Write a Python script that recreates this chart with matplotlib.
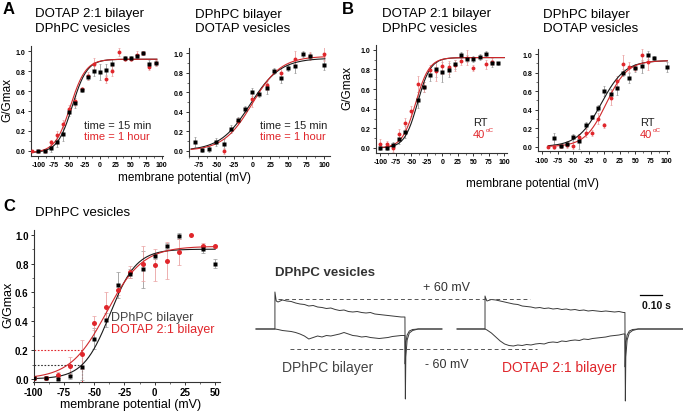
import numpy as np
import matplotlib
matplotlib.use("Agg")
import matplotlib.pyplot as plt
from matplotlib.ticker import MultipleLocator

plt.rcParams['font.family'] = ['Liberation Sans', 'DejaVu Sans']

W, H = 683, 414
RED = '#e0262b'
RED_LINE = '#d0282b'
BLK = '#1a1a1a'
RED_ERR = '#eaa2a2'
BLK_ERR = '#9a9a9a'

# ---------------- Panel A, left: DOTAP 2:1 bilayer / DPhPC vesicles ----------------
aL_black_v = [-100, -90, -80, -70, -60, -50, -40, -30, -20, -10, 0, 10, 20, 40, 50, 60, 70, 80, 90]
aL_black_g = [0.0, 0.0, 0.03, 0.09, 0.17, 0.39, 0.48, 0.61, 0.74, 0.80, 0.79, 0.81, 0.87, 0.93, 0.93, 0.95, 0.98, 0.87, 0.88]
aL_black_e = [0.01, 0.01, 0.04, 0.05, 0.07, 0.04, 0.05, 0.02, 0.03, 0.05, 0.08, 0.06, 0.05, 0.02, 0.02, 0.02, 0.02, 0.04, 0.03]
aL_red_v = [-110, -100, -90, -80, -70, -60, -50, -40, -30, -20, -10, 10, 20, 30, 40, 50, 60, 70, 80, 90]
aL_red_g = [0.0, 0.0, 0.0, 0.09, 0.16, 0.27, 0.42, 0.50, 0.62, 0.75, 0.87, 0.72, 0.80, 0.99, 0.92, 0.92, 0.96, 0.98, 0.84, 0.88]
aL_red_e = [0.01, 0.01, 0.01, 0.02, 0.04, 0.04, 0.04, 0.05, 0.02, 0.04, 0.06, 0.04, 0.05, 0.04, 0.02, 0.02, 0.04, 0.02, 0.03, 0.03]
# Boltzmann fit parameters: (Gmin, Gmax, V1/2, slope)
aL_black_fit = (-0.02, 0.92, -45.0, 12.0)
aL_red_fit = (-0.02, 0.92, -48.0, 12.5)

# ---------------- Panel A, right: DPhPC bilayer / DOTAP vesicles ----------------
aR_black_v = [-80, -70, -60, -50, -40, -30, -20, -10, 0, 10, 20, 30, 40, 50, 60, 70, 80, 100]
aR_black_g = [0.09, 0.01, 0.02, 0.09, 0.07, 0.22, 0.32, 0.43, 0.60, 0.58, 0.64, 0.82, 0.75, 0.85, 0.87, 0.99, 0.97, 0.88]
aR_black_e = [0.05, 0.02, 0.03, 0.04, 0.05, 0.04, 0.03, 0.03, 0.04, 0.03, 0.06, 0.03, 0.05, 0.03, 0.07, 0.03, 0.03, 0.05]
aR_red_v = [-40, -20, 0, 20, 40, 60, 80, 100]
aR_red_g = [0.0, 0.31, 0.53, 0.67, 0.80, 0.94, 0.97, 0.99]
aR_red_e = [0.03, 0.03, 0.08, 0.05, 0.05, 0.08, 0.04, 0.07]
aR_black_fit = (0.0, 0.95, -3.0, 21.0)
aR_red_fit = (0.0, 0.97, 0.0, 20.0)

# ---------------- Panel B, left ----------------
bL_black_v = [-100, -90, -80, -70, -60, -40, -30, -20, -10, 0, 10, 20, 30, 40, 50, 60, 70, 80, 90]
bL_black_g = [0.0, 0.0, 0.03, 0.09, 0.16, 0.49, 0.62, 0.74, 0.80, 0.77, 0.79, 0.85, 0.95, 0.91, 0.91, 0.93, 0.96, 0.86, 0.86]
bL_black_e = [0.02, 0.02, 0.03, 0.05, 0.06, 0.08, 0.05, 0.06, 0.08, 0.10, 0.07, 0.05, 0.03, 0.04, 0.03, 0.03, 0.03, 0.04, 0.02]
bL_red_v = [-100, -90, -80, -70, -60, -50, -40, -30, -20, -10, 0, 10, 20, 30, 40, 50, 70, 80]
bL_red_g = [0.04, 0.04, 0.0, 0.14, 0.25, 0.38, 0.65, 0.62, 0.79, 0.78, 0.83, 0.82, 0.84, 0.89, 0.92, 0.81, 0.85, 0.88]
bL_red_e = [0.05, 0.03, 0.04, 0.05, 0.06, 0.05, 0.08, 0.05, 0.05, 0.10, 0.08, 0.07, 0.06, 0.05, 0.08, 0.03, 0.05, 0.04]
bL_black_fit = (0.0, 0.92, -40.0, 10.5)
bL_red_fit = (0.0, 0.92, -43.0, 11.0)

# ---------------- Panel B, right ----------------
bR_black_v = [-80, -70, -60, -50, -40, -30, -20, -10, 0, 10, 20, 30, 40, 50, 60, 70, 80, 100]
bR_black_g = [0.09, 0.01, 0.03, 0.10, 0.06, 0.23, 0.32, 0.42, 0.60, 0.57, 0.63, 0.80, 0.74, 0.85, 0.87, 0.99, 0.96, 0.86]
bR_black_e = [0.06, 0.02, 0.03, 0.04, 0.08, 0.04, 0.02, 0.03, 0.05, 0.05, 0.07, 0.04, 0.05, 0.04, 0.07, 0.04, 0.02, 0.05]
bR_red_v = [-90, -80, -70, -60, -50, -40, -30, -20, -10, 0, 10, 20, 30, 40, 50, 60, 70]
bR_red_g = [0.0, 0.0, 0.01, 0.02, 0.01, 0.10, 0.15, 0.15, 0.30, 0.23, 0.53, 0.71, 0.89, 0.86, 0.85, 0.99, 0.91]
bR_red_e = [0.01, 0.02, 0.02, 0.03, 0.04, 0.04, 0.05, 0.03, 0.06, 0.03, 0.08, 0.05, 0.10, 0.05, 0.03, 0.06, 0.08]
bR_black_fit = (0.0, 0.93, -5.0, 19.0)
bR_red_fit = (0.0, 0.93, 3.0, 17.0)

# ---------------- Panel C ----------------
c_black_v = [-100, -90, -80, -70, -60, -50, -40, -30, -20, -10, 0, 10, 20, 40, 50]
c_black_g = [0.005, 0.005, 0.0, 0.02, 0.08, 0.28, 0.41, 0.65, 0.73, 0.76, 0.85, 0.92, 0.99, 0.90, 0.80]
c_black_e = [0.005, 0.005, 0.005, 0.02, 0.09, 0.07, 0.05, 0.09, 0.03, 0.13, 0.02, 0.02, 0.02, 0.03, 0.03]
c_red_v = [-100, -90, -80, -70, -60, -50, -40, -30, -20, -10, 0, 10, 20, 30, 40, 50]
c_red_g = [0.01, 0.01, 0.03, 0.09, 0.17, 0.39, 0.50, 0.62, 0.74, 0.80, 0.79, 0.82, 0.88, 1.0, 0.92, 0.92]
c_red_e = [0.005, 0.01, 0.02, 0.06, 0.10, 0.05, 0.10, 0.04, 0.04, 0.12, 0.11, 0.13, 0.09, 0.0, 0.02, 0.01]
c_black_fit = (0.0, 0.90, -37.0, 11.0)
c_red_fit = (0.0, 0.92, -40.0, 15.0)

# ---------------- Current traces (time in s, current in arbitrary units) ----------------
tr1_pre_t = [0.0, 0.086]
tr1_on_t, tr1_off_t, tr1_end_t = 0.086, 0.677, 0.845
tr1_on_spike = 37
tr1_pulse_t = [0.10, 0.12, 0.14, 0.16, 0.18, 0.20, 0.22, 0.24, 0.26, 0.28, 0.30, 0.32, 0.34, 0.36,
               0.38, 0.40, 0.42, 0.44, 0.46, 0.48, 0.50, 0.52, 0.54, 0.56, 0.58, 0.60, 0.62, 0.64, 0.66]
tr1_up = [27, 29, 28, 27.5, 26, 25, 24.5, 23, 23.5, 22, 21.5, 20.5, 21, 19.5, 18.5, 19, 17.5, 17,
          17.5, 16.5, 16, 16.5, 15, 14.5, 14, 13.5, 13, 12.5, 12]
tr1_down = [-0.5, -1.5, -2, -2.5, -3.5, -5, -7, -10, -8.5, -7, -8, -6.5, -7, -6, -5, -3.5, -5, -6.5,
            -7, -8, -7.5, -8.5, -9, -9.5, -9, -8.5, -7.5, -7, -6.5]
tr1_off_spike_up, tr1_off_spike_down = -35, -70

tr2_pre_t = [0.914, 1.041]
tr2_on_t, tr2_off_t, tr2_end_t = 1.041, 1.677, 1.941
tr2_on_spike = 33
tr2_pulse_t = [1.05, 1.07, 1.09, 1.11, 1.13, 1.15, 1.17, 1.19, 1.21, 1.23, 1.25, 1.27, 1.29, 1.31, 1.33, 1.35,
               1.37, 1.39, 1.41, 1.43, 1.45, 1.47, 1.49, 1.51, 1.53, 1.55, 1.57, 1.59, 1.61, 1.63, 1.65, 1.67]
tr2_up = [28, 29.5, 29, 28, 27, 26, 25, 24.5, 23, 22.5, 22, 21, 21.5, 20.5, 21, 20, 20.5, 19.5, 20, 19,
          19.5, 18.5, 19, 18, 18.5, 18, 17.5, 18, 17.5, 17, 17.5, 16.5]
tr2_down = [-1, -4, -8, -12, -15, -16.5, -17, -16, -16.5, -15.5, -16, -15, -14.5, -15, -13.5, -13, -13.5,
            -12, -12.5, -11.5, -11, -11.5, -10, -10.5, -9.5, -9, -8.5, -8, -7, -6.5, -6, -5]
tr2_off_spike_up, tr2_off_spike_down = -38, -72

recovery_dt = [0.004, 0.01, 0.02, 0.035, 0.06]
recovery_up = [-14, -6, -2, -0.5, 0]
recovery_down = [-28, -11, -4, -1.5, 0]

fig = plt.figure(figsize=(W / 100, H / 100), dpi=100)


def ax_px(l, t, r, b):
    return fig.add_axes([l / W, 1 - b / H, (r - l) / W, (b - t) / H])


def txt(x, y, s, **kw):
    kw.setdefault('va', 'center')
    kw.setdefault('ha', 'left')
    return fig.text(x / W, 1 - y / H, s, **kw)


def boltz(v, p):
    gmin, gmax, vh, k = p
    return gmin + (gmax - gmin) / (1 + np.exp((vh - v) / k))


def style(ax, xlim, ylim, xmaj, tick_fs, minor_x, pad=1.5):
    ax.set_xlim(*xlim)
    ax.set_ylim(*ylim)
    for s in ['top', 'right']:
        ax.spines[s].set_visible(False)
    for s in ['left', 'bottom']:
        ax.spines[s].set_linewidth(0.8)
        ax.spines[s].set_color('#333333')
    ax.xaxis.set_major_locator(MultipleLocator(xmaj))
    ax.xaxis.set_minor_locator(MultipleLocator(minor_x))
    ax.yaxis.set_major_locator(MultipleLocator(0.2))
    ax.yaxis.set_minor_locator(MultipleLocator(0.1))
    ax.tick_params(which='major', length=2.5, width=0.7, labelsize=tick_fs, pad=pad, color='#333333')
    ax.tick_params(which='minor', length=1.5, width=0.5, color='#333333')
    ax.yaxis.set_major_formatter(matplotlib.ticker.FormatStrFormatter('%.1f'))
    ax.xaxis.set_major_formatter(matplotlib.ticker.FuncFormatter(lambda v, p: '%d' % v))
    for lab in ax.get_xticklabels() + ax.get_yticklabels():
        lab.set_fontweight('bold')
    ax.patch.set_alpha(0)


def gv_panel(ax, bv, bg, be, rv, rg, re_, bfit, rfit, vrange, ms_b, ms_r, cap=1.0):
    ax.errorbar(bv, bg, yerr=be, fmt='none', ecolor=BLK_ERR, elinewidth=0.6, capsize=cap, capthick=0.5, zorder=1)
    ax.errorbar(rv, rg, yerr=re_, fmt='none', ecolor=RED_ERR, elinewidth=0.6, capsize=cap, capthick=0.5, zorder=1)
    v = np.linspace(vrange[0], vrange[1], 300)
    ax.plot(v, boltz(v, bfit), color=BLK, lw=0.8, zorder=2)
    ax.plot(v, boltz(v, rfit), color=RED_LINE, lw=0.8, zorder=2)
    ax.plot(rv, rg, 'o', color=RED, ms=ms_r, mec='none', zorder=3)
    ax.plot(bv, bg, 's', color='black', ms=ms_b, mec='none', zorder=4)


# Panel A left
ax = ax_px(31, 47.3, 163, 156.7)
gv_panel(ax, aL_black_v, aL_black_g, aL_black_e, aL_red_v, aL_red_g, aL_red_e,
         aL_black_fit, aL_red_fit, (-112, 92), 2.4, 2.8)
style(ax, (-112, 102), (-0.05, 1.05), 25, 5, 12.5)

# Panel A right
ax = ax_px(189, 49.4, 330, 156.6)
gv_panel(ax, aR_black_v, aR_black_g, aR_black_e, aR_red_v, aR_red_g, aR_red_e,
         aR_black_fit, aR_red_fit, (-85, 101), 2.4, 2.8)
style(ax, (-88, 108), (-0.05, 1.05), 25, 5, 12.5)

# Panel B left
ax = ax_px(375.7, 45.8, 507, 153.9)
gv_panel(ax, bL_black_v, bL_black_g, bL_black_e, bL_red_v, bL_red_g, bL_red_e,
         bL_black_fit, bL_red_fit, (-100, 100), 2.4, 2.8)
style(ax, (-107.6, 104.4), (-0.05, 1.05), 25, 5, 12.5)

# Panel B right
ax = ax_px(537.7, 50.4, 669, 152.3)
gv_panel(ax, bR_black_v, bR_black_g, bR_black_e, bR_red_v, bR_red_g, bR_red_e,
         bR_black_fit, bR_red_fit, (-90, 101), 2.4, 2.8)
style(ax, (-106.9, 103.8), (-0.05, 1.05), 25, 5, 12.5)

# Panel C
ax = ax_px(33.5, 231.4, 220, 383.3)
gv_panel(ax, c_black_v, c_black_g, c_black_e, c_red_v, c_red_g, c_red_e,
         c_black_fit, c_red_fit, (-100, 50), 3.0, 3.6, cap=1.5)
ax.plot([-100, -60], [0.2, 0.2], ls=(0, (1.5, 1.5)), color=RED, lw=0.8, zorder=0)
ax.plot([-60, -60], [-0.02, 0.2], ls=(0, (1.5, 1.5)), color=RED, lw=0.8, zorder=0)
ax.plot([-100, -60], [0.1, 0.1], ls=(0, (1.5, 1.5)), color='#333333', lw=0.8, zorder=0)
style(ax, (-100.2, 54), (-0.023, 1.03), 25, 7, 12.5, pad=1.0)

# Current traces
tax = ax_px(250, 260, 683, 414)
tax.set_xlim(-0.0273, 1.941)
tax.set_ylim(-84, 70)
tax.axis('off')


def build(pre_t, on_t, off_t, end_t, on_spike, pulse_t, up, down, off_up, off_down):
    ut = list(pre_t) + [on_t, on_t + 0.006] + list(pulse_t) + [off_t, off_t + 0.001]
    uy = [0, 0] + [on_spike, up[0] + 1] + list(up) + [up[-1], off_up]
    dt = list(pre_t) + list(pulse_t) + [off_t, off_t + 0.002]
    dy = [0, 0] + list(down) + [down[-1], off_down]
    for d, a, b in zip(recovery_dt, recovery_up, recovery_down):
        ut.append(off_t + d); uy.append(a)
        dt.append(off_t + d); dy.append(b)
    ut.append(end_t); uy.append(0)
    dt.append(end_t); dy.append(0)
    return ut, uy, dt, dy


for args in [(tr1_pre_t, tr1_on_t, tr1_off_t, tr1_end_t, tr1_on_spike, tr1_pulse_t, tr1_up, tr1_down,
              tr1_off_spike_up, tr1_off_spike_down),
             (tr2_pre_t, tr2_on_t, tr2_off_t, tr2_end_t, tr2_on_spike, tr2_pulse_t, tr2_up, tr2_down,
              tr2_off_spike_up, tr2_off_spike_down)]:
    ut, uy, dt, dy = build(*args)
    tax.plot(ut, uy, color='#3a3a3a', lw=0.7)
    tax.plot(dt, dy, color='#3a3a3a', lw=0.7)

tax.plot([0.1, 1.245], [30, 30], ls=(0, (4, 3)), color='#555555', lw=0.7)
tax.plot([0.155, 1.277], [-20, -20], ls=(0, (4, 3)), color='#555555', lw=0.7)
tax.plot([1.745, 1.845], [34, 34], color='black', lw=0.9)

# ---------------- Texts ----------------
TITLE_FS = 9.5
txt(3, 10, 'A', fontsize=12, fontweight='bold')
txt(35, 14, 'DOTAP 2:1 bilayer', fontsize=TITLE_FS)
txt(35, 29, 'DPhPC vesicles', fontsize=TITLE_FS)
txt(195, 15, 'DPhPC bilayer', fontsize=TITLE_FS)
txt(195, 29, 'DOTAP vesicles', fontsize=TITLE_FS)
txt(7, 100, 'G/Gmax', fontsize=8.5, rotation=90, ha='center')
txt(185, 178, 'membrane potential (mV)', fontsize=8.5, ha='center')
txt(84, 126, 'time = 15 min', fontsize=8, color='#222222')
txt(84, 137, 'time = 1 hour', fontsize=8, color=RED)
txt(260, 126, 'time = 15 min', fontsize=8, color='#222222')
txt(260, 137, 'time = 1 hour', fontsize=8, color=RED)

txt(342, 10, 'B', fontsize=12, fontweight='bold')
txt(382, 14, 'DOTAP 2:1 bilayer', fontsize=TITLE_FS)
txt(382, 29, 'DPhPC vesicles', fontsize=TITLE_FS)
txt(543, 15, 'DPhPC bilayer', fontsize=TITLE_FS)
txt(543, 29, 'DOTAP vesicles', fontsize=TITLE_FS)
txt(347, 88, 'G/Gmax', fontsize=8.5, rotation=90, ha='center')
txt(532, 184, 'membrane potential (mV)', fontsize=8.5, ha='center')
txt(473, 123, 'RT', fontsize=8, color='#222222')
txt(473, 135, '40', fontsize=8, color=RED)
txt(486, 131, 'oC', fontsize=4.5, color=RED)
txt(640, 123, 'RT', fontsize=8, color='#222222')
txt(640, 135, '40', fontsize=8, color=RED)
txt(653, 131, 'oC', fontsize=4.5, color=RED)

txt(3, 207, 'C', fontsize=12, fontweight='bold')
txt(35, 213, 'DPhPC vesicles', fontsize=TITLE_FS)
txt(8, 305, 'G/Gmax', fontsize=9, rotation=90, ha='center')
txt(131, 405, 'membrane potential (mV)', fontsize=9, ha='center')
txt(111, 318, 'DPhPC bilayer', fontsize=9, color='#444444')
txt(111, 330, 'DOTAP 2:1 bilayer', fontsize=9, color=RED)

txt(275, 273, 'DPhPC vesicles', fontsize=9.5, fontweight='bold', color='#333333')
txt(423, 288, '+ 60 mV', fontsize=9, color='#333333')
txt(425, 365, '- 60 mV', fontsize=9, color='#333333')
txt(282, 368, 'DPhPC bilayer', fontsize=10, color='#444444')
txt(502, 368, 'DOTAP 2:1 bilayer', fontsize=10, color=RED)
txt(642, 306, '0.10 s', fontsize=7.5, fontweight='bold', color='#111111')

fig.savefig('out.png', dpi=100)
